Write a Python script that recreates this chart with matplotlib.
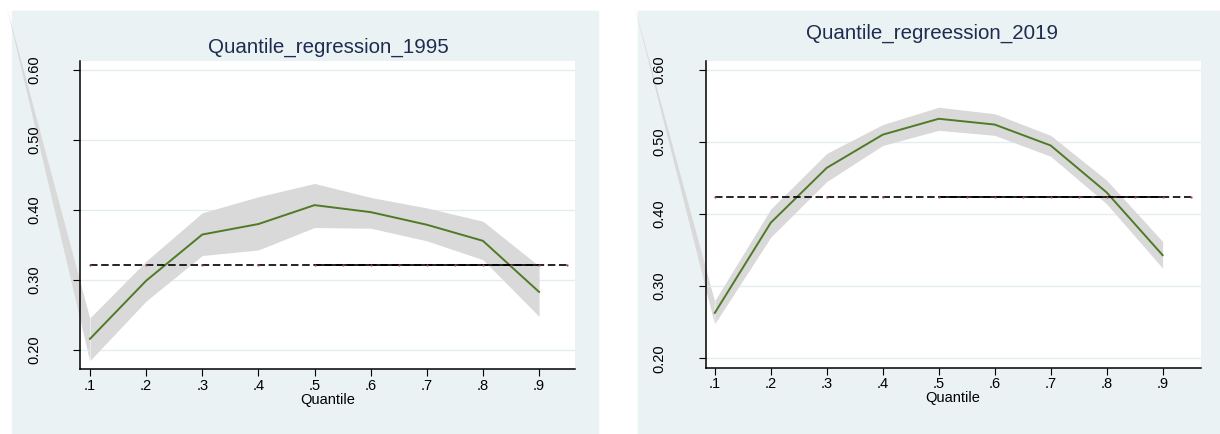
import matplotlib
matplotlib.use('Agg')
import matplotlib.pyplot as plt
from matplotlib.patches import Rectangle

plt.rcParams['font.family'] = ['Liberation Sans', 'DejaVu Sans']

# quantiles and estimates
quantiles = [0.1, 0.2, 0.3, 0.4, 0.5, 0.6, 0.7, 0.8, 0.9]

coef_1995 = [0.216, 0.299, 0.365, 0.380, 0.407, 0.397, 0.379, 0.356, 0.283]
upper_1995 = [0.246, 0.327, 0.396, 0.419, 0.438, 0.418, 0.403, 0.384, 0.320]
lower_1995 = [0.185, 0.270, 0.335, 0.343, 0.375, 0.374, 0.356, 0.329, 0.248]
ols_1995 = 0.322

coef_2019 = [0.263, 0.388, 0.464, 0.510, 0.532, 0.524, 0.495, 0.430, 0.343]
upper_2019 = [0.280, 0.407, 0.484, 0.524, 0.548, 0.539, 0.509, 0.447, 0.362]
lower_2019 = [0.248, 0.368, 0.445, 0.495, 0.516, 0.509, 0.480, 0.414, 0.325]
ols_2019 = 0.4236

# stray corner of the CI area that runs off the plot region (top end)
spur_1995 = (-0.048, 0.69)
spur_2019 = (-0.044, 0.69)

ols_x = [0.1, 0.95]
ols_solid_x = [0.5, 0.9]
ols_dots = [0.1, 0.2, 0.3, 0.4, 0.5, 0.55, 0.6, 0.65, 0.7, 0.75, 0.8, 0.85, 0.9, 0.95]

y_ticks = [0.2, 0.3, 0.4, 0.5, 0.6]
y_labels = ['0.20', '0.30', '0.40', '0.50', '0.60']
x_labels = ['.1', '.2', '.3', '.4', '.5', '.6', '.7', '.8', '.9']

BG = '#eaf2f3'
GRID = '#e3edf0'
BAND = '#d9d9d9'
GREEN = '#4f7a26'
TITLE = '#1d2c50'

fig = plt.figure(figsize=(12.2, 4.34), dpi=100)
fig.patches.append(Rectangle((12 / 1220, 0), 586 / 1220, 423 / 434,
                             transform=fig.transFigure, color=BG, zorder=-10))
fig.patches.append(Rectangle((638 / 1220, 0), 582 / 1220, 423 / 434,
                             transform=fig.transFigure, color=BG, zorder=-10))


def panel(rect, coef, upper, lower, ols, spur, xlim, ylim):
    ax = fig.add_axes(rect)
    ax.set_facecolor('white')
    ax.fill_between(quantiles, lower, upper, color=BAND, lw=0, zorder=1)
    # keep the spur under the tick labels
    ax.fill([spur[0], quantiles[0], quantiles[0]], [spur[1], upper[0], lower[0]],
            color=BAND, lw=0, zorder=0.3, clip_on=False)
    ax.plot(quantiles, coef, color=GREEN, lw=1.4, zorder=3)
    ax.plot(ols_x, [ols, ols], color='black', lw=1.2, ls=(0, (4.5, 2.2)), zorder=4)
    ax.plot(ols_solid_x, [ols, ols], color='black', lw=1.2, zorder=4)
    ax.plot(ols_dots, [ols] * len(ols_dots), ls='none', marker='o', ms=1.6,
            color='#b0405a', mew=0, zorder=5)
    ax.set_xlim(xlim)
    ax.set_ylim(ylim)
    ax.set_yticks(y_ticks)
    ax.set_yticklabels(y_labels, rotation=90, va='center', fontsize=10.5)
    ax.set_xticks(quantiles)
    ax.set_xticklabels(x_labels, fontsize=10.5)
    ax.yaxis.grid(True, color=GRID, lw=1)
    ax.set_axisbelow(True)
    for s in ['top', 'right']:
        ax.spines[s].set_visible(False)
    for s in ['left', 'bottom']:
        ax.spines[s].set_linewidth(1.1)
    ax.tick_params(axis='y', length=5, width=0.8, pad=23)
    ax.tick_params(axis='x', length=5, width=0.8, pad=2)
    ax.set_xlabel('Quantile', fontsize=10.5, labelpad=0)
    return ax


panel([80 / 1220, 65 / 434, 495 / 1220, 308 / 434], coef_1995, upper_1995,
      lower_1995, ols_1995, spur_1995, (0.0822, 0.964), (0.1729, 0.6129))
panel([705.7 / 1220, 66.3 / 434, 494.8 / 1220, 307 / 434], coef_2019, upper_2019,
      lower_2019, ols_2019, spur_2019, (0.0837, 0.9677), (0.187, 0.6125))

fig.text(328 / 1220, 1 - 47 / 434, 'Quantile_regression_1995', ha='center',
         va='center', fontsize=14.8, color=TITLE)
fig.text(932 / 1220, 1 - 33 / 434, 'Quantile_regreession_2019', ha='center',
         va='center', fontsize=14.8, color=TITLE)

fig.savefig('out.png', dpi=100, facecolor='white')
